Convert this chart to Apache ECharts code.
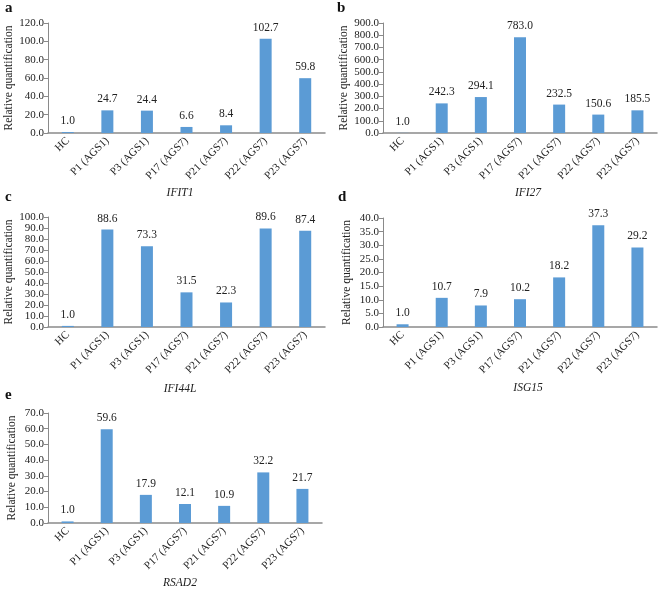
<!DOCTYPE html>
<html><head><meta charset="utf-8">
<script src="https://cdn.jsdelivr.net/npm/echarts@6/dist/echarts.min.js"></script>
<style>html,body{margin:0;padding:0;background:#fff}#c{width:669px;height:590px}</style>
</head><body><div id="c"></div>
<script>
const categories = ['HC','P1 (AGS1)','P3 (AGS1)','P17 (AGS7)','P21 (AGS7)','P22 (AGS7)','P23 (AGS7)'];
const geneNames = ['IFIT1','IFI27','IFI44L','ISG15','RSAD2'];
const panelLetters = ['a','b','c','d','e'];
const IFIT1 = [1.0, 24.7, 24.4, 6.6, 8.4, 102.7, 59.8];
const IFI27 = [1.0, 242.3, 294.1, 783.0, 232.5, 150.6, 185.5];
const IFI44L = [1.0, 88.6, 73.3, 31.5, 22.3, 89.6, 87.4];
const ISG15 = [1.0, 10.7, 7.9, 10.2, 18.2, 37.3, 29.2];
const RSAD2 = [1.0, 59.6, 17.9, 12.1, 10.9, 32.2, 21.7];
const yMax = [120, 900, 100, 40, 70];
const yInterval = [20, 100, 10, 5, 10];

const seriesData = [IFIT1, IFI27, IFI44L, ISG15, RSAD2];
const layout = [
  {left:48, top:23, w:277, h:110, lx:5, ly:1, tx:180, ty:187, ng:31},
  {left:383, top:23, w:274, h:110, lx:337, ly:1, tx:528, ty:187, ng:32},
  {left:48, top:217, w:277, h:110, lx:5, ly:190, tx:180, ty:383, ng:31},
  {left:383, top:218, w:274, h:109, lx:338, ly:190, tx:528, ty:382, ng:30},
  {left:48, top:413, w:274, h:110, lx:5, ly:388, tx:180, ty:577, ng:30}
];
const font = 'Liberation Serif';
const chart = echarts.init(document.getElementById('c'));
const grids=[], xAxes=[], yAxes=[], series=[], titles=[];
layout.forEach((L,i)=>{
  grids.push({left:L.left, top:L.top, width:L.w, height:L.h});
  xAxes.push({type:'category', gridIndex:i, data:categories,
    axisLine:{lineStyle:{color:'#8a8a8a', width:1.5}},
    axisTick:{alignWithLabel:true, length:4, lineStyle:{color:'#8a8a8a'}},
    axisLabel:{rotate:45, fontFamily:font, fontSize:11, color:'#222', margin:6, interval:0}});
  yAxes.push({type:'value', gridIndex:i, min:0, max:yMax[i], interval:yInterval[i],
    name:'Relative quantification', nameLocation:'middle', nameGap:L.ng,
    nameTextStyle:{fontFamily:font, fontSize:11.5, color:'#222'},
    splitLine:{show:false},
    axisLine:{show:true, lineStyle:{color:'#8a8a8a'}},
    axisTick:{show:true, length:4, lineStyle:{color:'#8a8a8a'}},
    axisLabel:{fontFamily:font, fontSize:11, lineHeight:9, color:'#222', margin:4, showMinLabel:true, showMaxLabel:true, hideOverlap:false, formatter:v=>v.toFixed(1)}});
  series.push({type:'bar', xAxisIndex:i, yAxisIndex:i, data:seriesData[i], barWidth:12,
    itemStyle:{color:'#5b9bd5'},
    label:{show:true, position:'top', distance:5, fontFamily:font, fontSize:11.5, color:'#222', formatter:p=>p.value.toFixed(1)}});
  titles.push({text:panelLetters[i], left:L.lx, top:L.ly, padding:0, textStyle:{fontFamily:font, fontSize:15, fontWeight:'bold', color:'#111'}});
  titles.push({text:geneNames[i], left:L.tx, top:L.ty, padding:0, textAlign:'center', textStyle:{fontFamily:font, fontSize:11.5, fontStyle:'italic', fontWeight:'normal', color:'#222'}});
});
chart.setOption({animation:false, title:titles, grid:grids, xAxis:xAxes, yAxis:yAxes, series:series});
</script></body></html>
